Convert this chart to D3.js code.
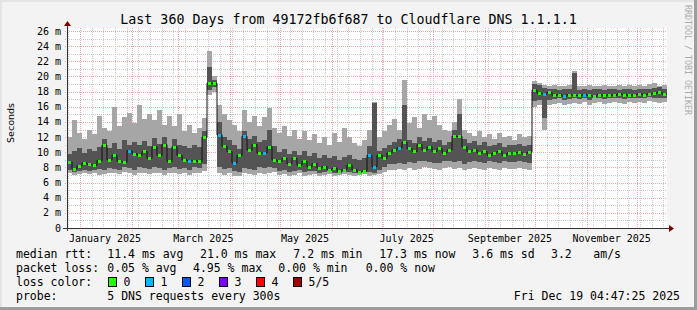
<!DOCTYPE html>
<html>
<head>
<meta charset="utf-8">
<script src="https://cdn.jsdelivr.net/npm/d3@7"></script>
<style>
body { margin: 0; background: #f3f3f3; }
svg { display: block; }
text { font-family: "DejaVu Sans Mono", monospace; fill: #000; }
</style>
</head>
<body>
<svg id="chart" width="697" height="310"></svg>
<script>
// one value every 3 days, 120 bins over the 360 days (ms)
var med = [
	8.7,7.8,8.2,8.6,8.4,8.3,8.9,10.9,9.0,9.6,
	8.8,8.7,10.2,9.8,9.6,10.1,9.2,10.7,9.6,11.0,
	8.8,10.7,9.6,9.0,8.9,8.9,8.8,12.0,19.1,19.1,
	12.3,10.8,10.1,8.6,9.6,12.1,10.3,11.0,9.9,9.9,
	10.7,9.0,8.8,9.2,8.5,9.2,8.3,8.8,8.1,8.5,
	7.9,8.1,7.7,7.9,7.5,7.7,8.3,7.7,7.4,7.5,
	9.6,8.1,9.6,9.2,9.9,10.3,10.6,11.3,10.5,10.1,
	11.0,10.3,10.7,10.1,10.5,9.9,10.3,12.1,12.1,10.7,
	10.1,10.3,9.9,10.1,9.6,9.9,10.1,9.6,9.9,9.9,
	10.0,9.8,10.0,18.2,17.8,17.7,17.9,17.5,17.6,17.4,
	17.6,17.5,17.5,17.6,17.5,17.4,17.6,17.5,17.6,17.5,
	17.7,17.6,17.5,17.6,17.7,17.6,17.7,17.8,17.9,17.7
];
// smoke: lowest ping, 2nd ping, 4th ping, highest ping
var lo = [
	7.2,7.0,7.1,7.3,7.1,7.2,7.0,7.1,7.3,7.2,
	7.1,7.4,7.2,7.0,7.3,7.2,7.1,7.2,7.3,7.0,
	7.2,7.3,7.1,7.2,7.0,7.3,7.2,7.5,17.6,18.0,
	7.3,7.0,7.2,6.9,6.8,7.2,7.1,7.0,7.3,7.1,
	7.2,7.4,7.0,7.1,6.9,7.0,7.2,6.9,7.0,7.1,
	6.9,7.0,7.1,6.9,7.0,7.1,7.0,6.9,7.0,7.1,
	6.9,7.0,7.1,7.4,7.6,7.7,7.8,7.6,7.9,7.7,
	7.8,8.0,7.9,7.8,7.7,7.9,8.0,7.8,7.9,7.6,
	7.8,7.9,7.8,7.7,7.9,7.8,7.7,7.9,7.8,7.8,
	7.9,7.8,7.7,16.0,16.3,13.0,16.2,16.4,16.5,16.3,
	16.4,16.5,16.4,16.6,16.3,16.5,16.6,16.4,16.5,16.6,
	16.5,16.4,16.6,16.5,16.6,16.5,16.7,16.6,16.5,16.6
];
var dlo = [
	7.6,7.4,7.5,7.7,7.5,7.6,7.8,7.6,7.9,7.8,
	7.7,8.0,7.9,7.7,8.1,7.9,7.8,8.0,7.9,7.7,
	7.9,8.1,7.8,7.9,7.7,8.0,7.9,8.4,18.2,18.6,
	8.0,7.8,7.9,7.5,7.4,7.9,7.8,7.7,8.0,7.9,
	8.0,7.9,7.5,7.6,7.4,7.5,7.6,7.4,7.5,7.5,
	7.3,7.4,7.5,7.3,7.3,7.4,7.4,7.3,7.3,7.4,
	7.4,7.3,7.6,8.1,8.4,8.5,8.6,8.5,8.7,8.6,
	8.8,8.9,8.7,8.6,8.6,8.8,8.9,8.7,8.8,8.5,
	8.7,8.8,8.7,8.6,8.8,8.7,8.6,8.8,8.7,8.7,
	8.8,8.7,8.6,16.8,16.9,14.5,16.9,17.0,17.1,16.9,
	17.0,17.1,17.0,17.2,16.9,17.1,17.2,17.0,17.1,17.2,
	17.1,17.0,17.2,17.1,17.2,17.1,17.3,17.2,17.1,17.2
];
var dhi = [
	9.8,10.2,10.6,9.9,10.4,10.1,10.7,11.8,10.5,11.2,
	10.4,11.6,11.0,11.3,10.9,11.5,10.8,11.9,11.1,12.0,
	10.6,11.7,11.0,10.8,10.5,10.9,10.7,12.8,21.2,19.6,
	14.0,12.0,11.6,11.0,10.4,12.8,11.8,12.2,11.4,11.6,
	12.9,10.8,10.0,10.4,9.8,10.2,9.6,10.1,9.5,9.9,
	9.3,9.6,9.2,9.5,9.0,9.4,9.6,9.1,9.0,9.3,
	10.8,16.5,10.2,10.6,11.0,11.4,11.8,16.2,11.6,11.2,
	12.0,11.5,11.9,11.3,11.6,11.0,11.4,13.0,15.0,11.8,
	11.2,11.5,11.0,11.3,10.8,11.0,11.2,10.7,11.0,10.9,
	11.1,10.8,11.0,19.0,18.9,18.5,18.4,18.3,18.2,18.4,
	18.3,20.4,18.2,18.3,18.2,18.4,18.3,18.2,18.4,18.3,
	18.2,18.3,18.4,18.2,18.3,18.4,18.3,18.5,18.6,18.4
];
var hi = [
	12.0,14.3,12.6,11.8,13.0,12.4,14.8,13.2,12.8,16.0,
	13.5,14.6,15.2,13.8,16.3,14.4,15.0,14.2,15.6,13.6,
	14.8,13.4,15.0,12.8,13.6,12.5,13.2,14.5,23.3,20.0,
	16.2,15.0,14.2,13.6,12.8,15.6,14.0,14.8,13.4,14.6,
	15.8,13.2,12.6,13.4,12.2,13.0,11.8,12.8,11.6,12.4,
	11.2,12.0,11.0,12.6,11.4,13.2,12.0,11.2,10.8,11.6,
	13.0,16.6,12.0,12.8,13.6,14.4,13.0,19.5,13.8,14.6,
	13.2,15.0,14.2,14.8,13.6,13.0,12.8,14.0,17.0,13.0,
	12.6,12.2,12.8,12.0,12.4,11.8,12.6,12.0,12.2,11.6,
	12.4,12.0,12.2,19.4,19.2,18.9,18.8,18.9,18.7,18.8,
	18.9,20.7,18.8,18.7,18.9,18.8,18.7,18.9,18.8,18.7,
	18.9,18.8,18.9,18.8,18.9,18.8,19.0,19.1,18.8,18.9
];
// lost requests per bin (0..5)
var loss = [
	0,0,0,0,0,0,0,0,0,0,
	0,0,1,0,0,0,0,0,0,0,
	0,0,0,0,1,0,0,0,0,0,
	1,0,0,1,0,1,0,0,0,1,
	0,0,0,0,0,0,0,0,0,0,
	0,0,0,0,0,0,0,0,0,0,
	1,1,0,0,0,0,1,0,0,0,
	0,0,0,0,0,0,0,0,0,0,
	0,0,0,0,0,0,0,0,0,0,
	0,0,0,0,0,1,0,0,0,1,
	0,0,0,1,0,0,0,0,0,0,
	0,0,0,0,0,0,0,0,0,0
];

var lossColors = ["#26ff00", "#00b8ff", "#0059ff", "#7e00ff", "#ff0000", "#a10000"];
var lossLabels = ["0", "1", "2", "3", "4", "5/5"];
var yTicks = [0, 2, 4, 6, 8, 10, 12, 14, 16, 18, 20, 22, 24, 26];
var monthLabels = ["January 2025", "March 2025", "May 2025", "July 2025", "September 2025", "November 2025"];

var legendRtt = ["median rtt:", "11.4 ms avg", "21.0 ms max", "7.2 ms min", "17.3 ms now", "3.6 ms sd", "3.2", "am/s"];
var legendLoss = ["packet loss:", "0.05 % avg", "4.95 % max", "0.00 % min", "0.00 % now"];
var legendProbe = ["probe:", "5 DNS requests every 300s"];
var stamp = "Fri Dec 19 04:47:25 2025";
var title = "Last 360 Days from 49172fb6f687 to Cloudflare DNS 1.1.1.1";

var svg = d3.select("#chart");
var width = 697, height = 310;
// plot box (window.top is read-only, so no plain "top" here)
var plotL = 67, plotR = 667, plotT = 28, plotB = 228;

var endTime = new Date(Date.UTC(2025, 11, 19, 4, 47, 25));
var startTime = new Date(+endTime - 360 * 864e5);
var x = d3.scaleUtc().domain([startTime, endTime]).range([plotL, plotR]);
var y = d3.scaleLinear().domain([0, 26.4]).range([plotB, plotT]);
var binMs = 360 * 864e5 / med.length;
function binStart(i) { return new Date(+startTime + i * binMs); }

// background + shaded border
svg.append("rect").attr("width", width).attr("height", height).attr("fill", "#f3f3f3");
svg.append("path").attr("d", "M0,0H697V2H2V310H0Z").attr("fill", "#e4e4e4");
svg.append("path").attr("d", "M697,0V310H0V307H694V0Z").attr("fill", "#9d9d9d");
svg.append("rect").attr("x", plotL).attr("y", plotT).attr("width", plotR - plotL).attr("height", plotB - plotT).attr("fill", "#fff");

// grid
var grid = svg.append("g").attr("shape-rendering", "crispEdges");
for (var v = 1; v <= 26; v++) {
	grid.append("line")
		.attr("x1", plotL - 2).attr("x2", plotR)
		.attr("y1", Math.round(y(v)) + 0.5).attr("y2", Math.round(y(v)) + 0.5)
		.attr("stroke", v % 2 == 0 ? "#f0a8a8" : "#c9c9c9")
		.attr("stroke-dasharray", "1,1");
}
var months = d3.utcMonth.range(startTime, endTime);
var weeks = d3.utcWednesday.range(startTime, endTime).filter(function(d) { return d.getUTCDate() != 1; });
grid.selectAll(".wk").data(weeks).enter().append("line")
	.attr("x1", function(d) { return Math.round(x(d)) + 0.5; })
	.attr("x2", function(d) { return Math.round(x(d)) + 0.5; })
	.attr("y1", plotT).attr("y2", plotB + 2)
	.attr("stroke", "#c9c9c9").attr("stroke-dasharray", "1,1");
grid.selectAll(".mo").data(months).enter().append("line")
	.attr("x1", function(d) { return Math.round(x(d)) + 0.5; })
	.attr("x2", function(d) { return Math.round(x(d)) + 0.5; })
	.attr("y1", plotT).attr("y2", plotB + 3)
	.attr("stroke", "#f0a8a8").attr("stroke-dasharray", "1,1");

// smoke
var idx = d3.range(med.length);
var smoke = svg.append("g").attr("shape-rendering", "crispEdges");
smoke.selectAll(".outer").data(idx).enter().append("rect")
	.attr("x", function(i) { return x(binStart(i)); })
	.attr("width", function(i) { return x(binStart(i + 1)) - x(binStart(i)); })
	.attr("y", function(i) { return y(hi[i]); })
	.attr("height", function(i) { return y(lo[i]) - y(hi[i]); })
	.attr("fill", "#a6a6a6");
smoke.selectAll(".inner").data(idx).enter().append("rect")
	.attr("x", function(i) { return x(binStart(i)); })
	.attr("width", function(i) { return x(binStart(i + 1)) - x(binStart(i)); })
	.attr("y", function(i) { return y(dhi[i]); })
	.attr("height", function(i) { return y(dlo[i]) - y(dhi[i]); })
	.attr("fill", "#545454");

// median line, then loss-coloured marks
var stepPts = idx.map(function(i) { return [x(binStart(i)), y(med[i])]; });
stepPts.push([x(endTime), y(med[med.length - 1])]);
svg.append("path")
	.attr("d", d3.line().curve(d3.curveStepAfter)(stepPts))
	.attr("fill", "none").attr("stroke", "#111").attr("stroke-width", 1);
svg.append("g").attr("shape-rendering", "crispEdges")
	.selectAll("rect").data(idx).enter().append("rect")
	.attr("x", function(i) { return Math.round(x(binStart(i))) + 1; })
	.attr("width", 3)
	.attr("y", function(i) { return Math.round(y(med[i])) - 1; })
	.attr("height", 3)
	.attr("fill", function(i) { return lossColors[loss[i]]; });

// axes with arrows
var axes = svg.append("g").attr("shape-rendering", "crispEdges");
axes.append("line").attr("x1", plotL - 4).attr("x2", plotR + 2).attr("y1", plotB + 0.5).attr("y2", plotB + 0.5).attr("stroke", "#333");
axes.append("line").attr("x1", plotL + 0.5).attr("x2", plotL + 0.5).attr("y1", plotB + 3).attr("y2", plotT - 3).attr("stroke", "#333");
svg.append("path").attr("d", "M" + (plotR + 2) + "," + (plotB - 3) + "L" + (plotR + 7) + "," + (plotB + 0.5) + "L" + (plotR + 2) + "," + (plotB + 4) + "Z").attr("fill", "#800000");
svg.append("path").attr("d", "M" + (plotL - 3) + "," + (plotT - 2) + "L" + (plotL + 0.5) + "," + (plotT - 7) + "L" + (plotL + 4) + "," + (plotT - 2) + "Z").attr("fill", "#800000");

// tick labels
svg.append("g").selectAll("text").data(yTicks).enter().append("text")
	.attr("x", 61).attr("y", function(d) { return y(d) + 3.5; })
	.attr("text-anchor", "end").style("font-size", "10px")
	.text(function(d) { return d == 0 ? "0" : d + " m"; });
var labelDates = monthLabels.map(function(s) { var p = d3.utcParse("%B %Y")(s); return new Date(+p + 15 * 864e5); });
svg.append("g").selectAll("text").data(monthLabels).enter().append("text")
	.attr("x", function(d, i) { return x(labelDates[i]); }).attr("y", 241.5)
	.attr("text-anchor", "middle").style("font-size", "10px")
	.text(function(d) { return d; });

// titles
svg.append("text").attr("x", 348.5).attr("y", 23.5).attr("text-anchor", "middle")
	.style("font-size", "13.3px").text(title);
svg.append("text").attr("transform", "translate(14,123) rotate(-90)").attr("text-anchor", "middle")
	.style("font-family", "'DejaVu Sans'").style("font-size", "9.5px").text("Seconds");
svg.append("text").attr("transform", "translate(684.5,5) rotate(90)")
	.style("font-size", "8.3px").style("fill", "#acacac").text("RRDTOOL / TOBI OETIKER");

// legend
var legendFont = "11.5px";
var rttX = [16, 107.3, 200, 293.3, 379.3, 472.3, 551, 593.3];
var lossX = [16, 107.3, 193, 278.3, 365.7];
function legendRow(items, xs, yy) {
	svg.append("g").selectAll("text").data(items).enter().append("text")
		.attr("x", function(d, i) { return xs[i]; }).attr("y", yy)
		.style("font-size", legendFont)
		.text(function(d) { return d; });
}
legendRow(legendRtt, rttX, 258);
legendRow(legendLoss, lossX, 272);
legendRow(["loss color:"], [16], 286);
legendRow(legendProbe, [16, 107.3], 300);
svg.append("text").attr("x", 680).attr("y", 300).attr("text-anchor", "end")
	.style("font-size", legendFont).text(stamp);

var swatch = svg.append("g");
lossColors.forEach(function(c, i) {
	var sx = 108.5 + i * 37;
	swatch.append("rect").attr("x", sx).attr("y", 277.5).attr("width", 8).attr("height", 9)
		.attr("fill", c).attr("stroke", "#000").attr("stroke-width", 1);
	swatch.append("text").attr("x", sx + 15).attr("y", 286).style("font-size", legendFont).text(lossLabels[i]);
});
</script>
</body>
</html>
